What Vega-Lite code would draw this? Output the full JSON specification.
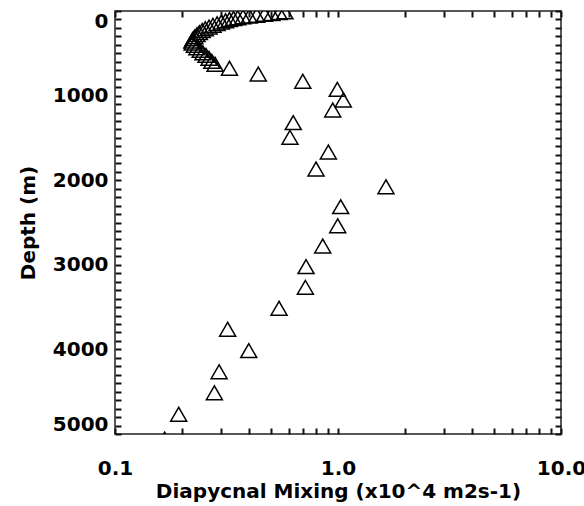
{
  "$schema": "https://vega.github.io/schema/vega-lite/v6.json",
  "width": 446,
  "height": 423,
  "autosize": {"type": "none"},
  "padding": {"left": 115, "top": 11, "right": 23, "bottom": 72},
  "background": "white",
  "config": {
    "view": {"stroke": "#222", "strokeWidth": 1.5},
    "font": "DejaVu Sans",
    "axis": {
      "labelFont": "DejaVu Sans",
      "labelFontWeight": "bold",
      "labelFontSize": 20,
      "labelColor": "black",
      "titleFont": "DejaVu Sans",
      "titleFontWeight": "bold",
      "titleFontSize": 20,
      "titleColor": "black",
      "domain": false,
      "grid": false,
      "labelOverlap": false
    }
  },
  "data": {
    "values": [
      {"depth": 10, "mixing": 0.578},
      {"depth": 20, "mixing": 0.545},
      {"depth": 30, "mixing": 0.505},
      {"depth": 40, "mixing": 0.468},
      {"depth": 50, "mixing": 0.432},
      {"depth": 60, "mixing": 0.400},
      {"depth": 70, "mixing": 0.375},
      {"depth": 80, "mixing": 0.355},
      {"depth": 90, "mixing": 0.340},
      {"depth": 100, "mixing": 0.326},
      {"depth": 115, "mixing": 0.313},
      {"depth": 130, "mixing": 0.300},
      {"depth": 150, "mixing": 0.287},
      {"depth": 170, "mixing": 0.275},
      {"depth": 190, "mixing": 0.264},
      {"depth": 210, "mixing": 0.254},
      {"depth": 230, "mixing": 0.246},
      {"depth": 255, "mixing": 0.239},
      {"depth": 280, "mixing": 0.233},
      {"depth": 305, "mixing": 0.228},
      {"depth": 330, "mixing": 0.224},
      {"depth": 355, "mixing": 0.221},
      {"depth": 380, "mixing": 0.222},
      {"depth": 405, "mixing": 0.227},
      {"depth": 435, "mixing": 0.233},
      {"depth": 465, "mixing": 0.241},
      {"depth": 495, "mixing": 0.248},
      {"depth": 525, "mixing": 0.256},
      {"depth": 560, "mixing": 0.264},
      {"depth": 595, "mixing": 0.272},
      {"depth": 630, "mixing": 0.281},
      {"depth": 677, "mixing": 0.326},
      {"depth": 745, "mixing": 0.439},
      {"depth": 831, "mixing": 0.695},
      {"depth": 926, "mixing": 0.993},
      {"depth": 1052, "mixing": 1.056},
      {"depth": 1170, "mixing": 0.947},
      {"depth": 1320, "mixing": 0.630},
      {"depth": 1493, "mixing": 0.609},
      {"depth": 1667, "mixing": 0.905},
      {"depth": 1868, "mixing": 0.797},
      {"depth": 2077, "mixing": 1.641},
      {"depth": 2313, "mixing": 1.028},
      {"depth": 2538, "mixing": 0.997},
      {"depth": 2778, "mixing": 0.854},
      {"depth": 3022, "mixing": 0.719},
      {"depth": 3266, "mixing": 0.714},
      {"depth": 3514, "mixing": 0.544},
      {"depth": 3762, "mixing": 0.320},
      {"depth": 4015, "mixing": 0.398},
      {"depth": 4264, "mixing": 0.293},
      {"depth": 4512, "mixing": 0.279},
      {"depth": 4767, "mixing": 0.193},
      {"depth": 5060, "mixing": 0.167}
    ]
  },
  "resolve": {"axis": {"x": "independent", "y": "independent"}},
  "layer": [
    {
      "mark": {"type": "point", "shape": "triangle-up", "filled": false, "stroke": "black", "strokeWidth": 1.5, "size": 256, "opacity": 1, "clip": true},
      "encoding": {
        "x": {
          "field": "mixing", "type": "quantitative",
          "scale": {"type": "log", "domain": [0.1, 10], "nice": false},
          "axis": {
            "orient": "bottom",
            "title": "Diapycnal Mixing (x10^4 m2s-1)",
            "titlePadding": 3,
            "values": [0.1, 0.2, 0.3, 0.4, 0.5, 0.6, 0.7, 0.8, 0.9, 1, 2, 3, 4, 5, 6, 7, 8, 9, 10],
            "labelExpr": "datum.value == 1 ? '1.0' : datum.value == 10 ? '10.0' : datum.value == 0.1 ? '0.1' : ''",
            "ticks": true,
            "tickColor": "#111111",
            "tickWidth": 2,
            "tickSize": -6,
            "labelFlush": false,
            "labelPadding": 30
          }
        },
        "y": {
          "field": "depth", "type": "quantitative",
          "scale": {"domain": [0, 5000], "reverse": true, "nice": false, "zero": false},
          "axis": {
            "orient": "left",
            "title": "Depth (m)",
            "titlePadding": 14,
            "values": [0,100,200,300,400,500,600,700,800,900,1000,1100,1200,1300,1400,1500,1600,1700,1800,1900,2000,2100,2200,2300,2400,2500,2600,2700,2800,2900,3000,3100,3200,3300,3400,3500,3600,3700,3800,3900,4000,4100,4200,4300,4400,4500,4600,4700,4800,4900,5000],
            "labelExpr": "datum.value % 1000 == 0 ? format(datum.value, 'd') : ''",
            "ticks": true,
            "tickColor": "#111111",
            "tickWidth": 2,
            "tickSize": -6,
            "labelFlush": true,
            "labelPadding": 13
          }
        }
      }
    },
    {
      "mark": {"type": "point", "opacity": 0},
      "encoding": {
        "x": {
          "field": "mixing", "type": "quantitative",
          "scale": {"type": "log", "domain": [0.1, 10], "nice": false},
          "axis": {
            "orient": "top", "title": null, "labels": false,
            "values": [0.1, 0.2, 0.3, 0.4, 0.5, 0.6, 0.7, 0.8, 0.9, 1, 2, 3, 4, 5, 6, 7, 8, 9, 10],
            "ticks": true, "tickColor": "#111111", "tickWidth": 2,
            "tickSize": -6
          }
        },
        "y": {
          "field": "depth", "type": "quantitative",
          "scale": {"domain": [0, 5000], "reverse": true, "nice": false, "zero": false},
          "axis": {
            "orient": "right", "title": null, "labels": false,
            "values": [0,100,200,300,400,500,600,700,800,900,1000,1100,1200,1300,1400,1500,1600,1700,1800,1900,2000,2100,2200,2300,2400,2500,2600,2700,2800,2900,3000,3100,3200,3300,3400,3500,3600,3700,3800,3900,4000,4100,4200,4300,4400,4500,4600,4700,4800,4900,5000],
            "ticks": true, "tickColor": "#111111", "tickWidth": 2,
            "tickSize": -6
          }
        }
      }
    }
  ]
}
